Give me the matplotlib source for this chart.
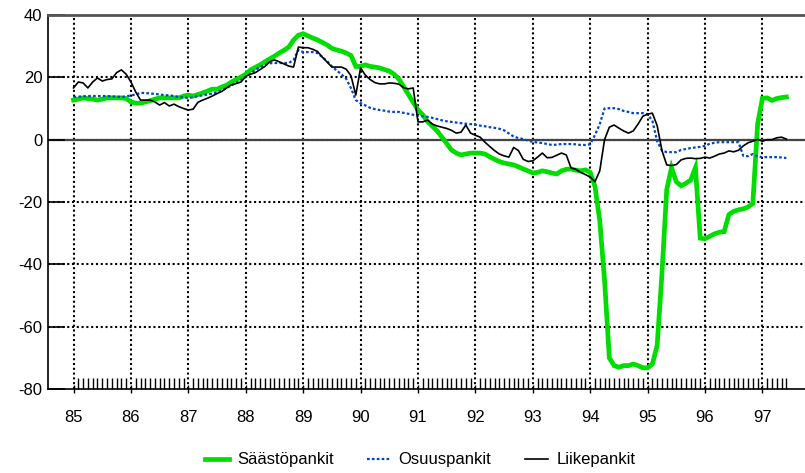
import numpy as np
import matplotlib
matplotlib.use('Agg')
import matplotlib.pyplot as plt
from matplotlib.ticker import FixedLocator

plt.rcParams['font.family'] = ['Liberation Sans', 'DejaVu Sans']

# ── monthly data, Jan 1985 .. Jun 1997 ─────────────────────────────────
START_YEAR = 85

saastopankit = [
    12.7, 13.0, 13.4, 13.2, 13.0, 12.7, 13.0, 13.4, 13.4, 13.4, 13.4, 13.2,
    12.1, 11.7, 11.7, 12.1, 12.5, 13.0, 13.4, 13.4, 13.4, 13.4, 13.4, 14.0,
    14.3, 14.0, 14.5, 15.0, 15.6, 16.2, 16.2, 16.9, 17.5, 18.5, 19.3, 20.1,
    21.0, 22.4, 23.2, 24.0, 25.0, 25.9, 26.8, 27.8, 28.7, 29.7, 32.0, 33.5,
    34.0, 33.3, 32.6, 32.0, 31.2, 30.4, 29.3, 28.8, 28.4, 27.8, 27.0, 23.5,
    23.5, 24.0, 23.5, 23.3, 23.0, 22.5, 22.0, 21.0, 19.5, 17.0, 14.5, 12.0,
    9.5, 8.0, 5.8, 4.3, 2.8, 0.8, -1.2, -3.3, -4.3, -4.9, -4.6, -4.3,
    -4.3, -4.3, -4.6, -5.5, -6.3, -7.0, -7.5, -7.8, -8.1, -8.7, -9.4, -10.0,
    -10.7, -10.5, -10.0, -10.3, -10.7, -11.0, -10.0, -9.5, -9.4, -9.8, -10.0, -9.7,
    -10.5, -15.0, -26.0, -45.0, -70.0, -72.5, -73.0, -72.5, -72.5, -72.0, -72.5, -73.2,
    -73.2, -72.0, -66.0, -43.0, -16.0, -9.0, -13.5, -14.8, -14.0, -13.0, -9.0, -31.6,
    -31.8, -31.0, -30.2, -29.7, -29.5, -24.0, -23.0, -22.5, -22.2, -21.6, -20.5, 5.0,
    13.3, 13.4, 12.6, 13.2, 13.5, 13.7,
]

osuuspankit = [
    13.7, 13.8, 13.9, 14.0, 14.0, 14.0, 14.0, 14.0, 13.9, 13.8, 13.7, 13.9,
    14.2, 14.5, 15.0, 15.0, 14.8, 14.7, 14.5, 14.3, 14.2, 14.0, 13.7, 13.5,
    13.4, 13.6, 14.0, 14.2, 14.5, 14.8, 15.2, 15.8, 16.6, 17.4, 18.2, 19.2,
    20.1, 21.2, 22.4, 23.3, 24.0, 24.5, 24.6, 24.6, 24.6, 24.6, 25.6, 28.8,
    28.1, 28.1, 28.1, 27.8, 26.5, 25.2, 23.5, 22.2, 21.0, 19.5, 16.5, 12.7,
    11.7, 11.0, 10.2, 9.8, 9.5, 9.3, 9.0, 8.9, 8.9, 8.6, 8.3, 8.0,
    7.7, 7.5, 7.3, 7.0, 6.6, 6.2, 5.9, 5.7, 5.5, 5.3, 5.1, 5.0,
    4.8, 4.5, 4.3, 4.0, 3.8, 3.5, 3.0, 2.0, 1.0, 0.5, 0.2, -0.3,
    -0.7, -0.9, -1.1, -1.4, -1.7, -1.6, -1.4, -1.4, -1.4, -1.5, -1.7, -1.7,
    -1.5, 1.5, 5.0, 10.0, 10.1, 10.1, 9.8, 9.2, 8.9, 8.5, 8.5, 8.5,
    8.2, 6.0, -0.5, -3.5, -4.0, -4.0, -4.0, -3.3, -3.0, -2.7, -2.5, -2.3,
    -2.0, -1.3, -1.0, -0.8, -0.8, -0.8, -0.8, -0.8, -5.2, -5.3, -4.6, -5.4,
    -5.6, -5.6, -5.6, -5.6, -5.7, -5.9,
]

liikepankit = [
    16.6, 18.5, 18.2, 16.6, 18.5, 19.8, 18.8, 19.3, 19.5, 21.5, 22.4, 21.0,
    18.5, 15.3, 12.7, 12.7, 12.7, 12.1, 11.1, 11.9, 10.8, 11.4, 10.6, 10.0,
    9.5, 9.8, 12.0, 12.7, 13.3, 14.0, 14.8, 15.5, 16.6, 17.6, 18.0, 18.5,
    20.3, 21.0, 21.5, 22.5, 23.5, 25.0, 25.6, 25.0, 24.3, 23.6, 23.3, 29.7,
    29.5, 29.5, 29.0, 28.3, 26.5, 24.9, 23.3, 23.3, 23.3, 22.6, 20.5, 14.3,
    23.0, 20.7, 19.3, 18.3, 17.9, 17.9, 18.2, 18.1, 17.8, 16.7, 16.3, 16.6,
    5.7, 5.7, 6.3, 5.0, 4.4, 4.0, 3.6, 3.0, 2.1, 2.4, 4.7, 2.1,
    1.4, 0.8, -0.8, -2.2, -3.5, -4.6, -5.2, -5.6, -2.5, -3.5, -6.3, -7.0,
    -6.8, -5.6, -4.3, -5.8, -5.7, -5.0, -4.3, -4.9, -9.1, -9.5, -10.5, -11.2,
    -12.0, -13.5, -10.0, 0.0, 4.0, 4.7, 3.7, 2.8, 2.1, 2.8, 5.0, 7.5,
    8.2, 8.5, 4.5, -3.5, -8.1, -8.3, -8.0, -6.5, -6.0, -5.9, -6.1, -6.0,
    -5.6, -5.9, -5.3, -4.6, -4.3, -3.6, -3.9, -3.4, -2.0, -1.0, -0.5, 0.1,
    -0.5, 0.0, 0.0, 0.6, 0.8, 0.2,
]

year_labels = ['85', '86', '87', '88', '89', '90', '91', '92', '93', '94', '95', '96', '97']
y_ticks = [-80, -60, -40, -20, 0, 20, 40]

t_green = START_YEAR + np.arange(len(saastopankit)) / 12.0
t_blue = START_YEAR + np.arange(len(osuuspankit)) / 12.0
t_black = START_YEAR + np.arange(len(liikepankit)) / 12.0

fig = plt.figure(figsize=(8.05, 4.73), dpi=100)
ax = fig.add_axes([48 / 805, 1 - 389 / 473, 1 - 48 / 805 + 0.002, 374 / 473])

# grid
grid_kw = dict(color='black', linestyle=(0, (1, 1.3)), linewidth=1.5, zorder=1)
years = START_YEAR + np.arange(len(year_labels))
for yr in years:
    ax.axvline(yr, **grid_kw)
for yv in y_ticks[1:-1]:
    ax.axhline(yv, **grid_kw)
ax.axhline(0, color='#444444', linewidth=1.6, zorder=1.5)

ax.plot(t_green, saastopankit, color='#00dd00', linewidth=3.4, zorder=3,
        solid_joinstyle='miter', label='Säästöpankit')
ax.plot(t_blue, osuuspankit, color='#0044c8', linewidth=1.6,
        linestyle=(0, (1.2, 1.0)), zorder=4, label='Osuuspankit')
ax.plot(t_black, liikepankit, color='black', linewidth=1.2, zorder=5,
        label='Liikepankit')

ax.set_xlim(84.555, 97.77)
ax.set_ylim(-80, 40)

ax.xaxis.set_major_locator(FixedLocator(years))
ax.set_xticklabels(year_labels)
month_ticks = START_YEAR + np.arange(0, 150) / 12.0
ax.xaxis.set_minor_locator(FixedLocator(month_ticks))
ax.tick_params(axis='x', which='major', direction='inout', length=6, width=1.0,
               pad=12, labelsize=12)
ax.tick_params(axis='x', which='minor', direction='in', length=8, width=1.0)
ax.set_yticks(y_ticks)
ax.set_yticklabels([str(v) for v in y_ticks])
ax.tick_params(axis='y', direction='in', length=12, width=1.2, labelsize=12, pad=4)

ax.spines['right'].set_visible(False)
ax.spines['top'].set_color('#555555')
ax.spines['top'].set_linewidth(2.0)
ax.spines['left'].set_linewidth(1.2)
ax.spines['bottom'].set_linewidth(1.2)

fig.legend(loc='lower center', bbox_to_anchor=(0.522, -0.02), ncol=3, frameon=False,
           fontsize=12, handlelength=1.4, columnspacing=2.0, handletextpad=0.5)

fig.savefig('out.png', dpi=100)
